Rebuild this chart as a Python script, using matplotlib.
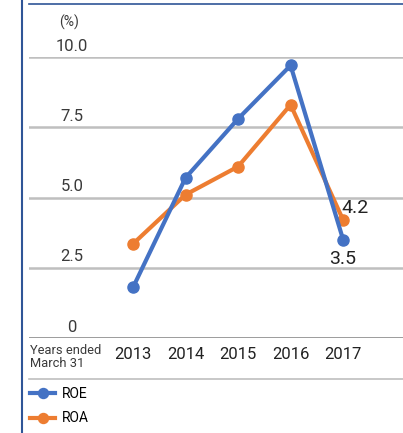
import matplotlib.pyplot as plt
from matplotlib.lines import Line2D

plt.rcParams['font.family'] = ['Roboto', 'DejaVu Sans']

years = ['2013', '2014', '2015', '2016', '2017']
roe = [1.8, 5.7, 7.8, 9.7, 3.5]
roa = [3.35, 5.1, 6.1, 8.3, 4.2]
yticks = [0, 2.5, 5.0, 7.5, 10.0]
ytick_labels = ['0', '2.5', '5.0', '7.5', '10.0']

blue = '#4472C4'
orange = '#ED7D31'
W, H = 403, 433


def fx(x):
    return x / W


def fy(y):
    return 1 - y / H


fig = plt.figure(figsize=(W / 100, H / 100), dpi=100)
ax = fig.add_axes([fx(29), fy(338), fx(403 - 29), (338 - 57) / H])
ax.set_xlim(-1.98, 5.14)
ax.set_ylim(0, 10)
ax.axis('off')

for v in yticks[1:]:
    ax.axhline(v, color='#BFBFBF', lw=1.8, zorder=1)
ax.axhline(0, color='#7F7F7F', lw=1.8, zorder=1)

xs = list(range(len(years)))
ax.plot(xs, roe, color=blue, lw=3, marker='o', ms=8, zorder=3, clip_on=False, label='ROE')
ax.plot(xs, roa, color=orange, lw=3, marker='o', ms=8, zorder=2, clip_on=False, label='ROA')

# y tick labels sit above the gridlines
for v, lab in zip(yticks, ytick_labels):
    ax.text(-1.16, v + 0.12, lab, ha='center', va='bottom', fontsize=12, color='#3a3a3a')
fig.text(fx(69), fy(22), '(%)', ha='center', va='center', fontsize=10, color='#3a3a3a')

# year labels
for i, yr in enumerate(years):
    ax.text(i, -0.6, yr, ha='center', va='center', fontsize=12, color='#222222', clip_on=False)
fig.text(fx(30), fy(357), 'Years ended\nMarch 31', ha='left', va='center', fontsize=9.3,
         color='#3a3a3a', linespacing=1.0)

# end labels
ax.text(4.23, 4.62, '4.2', ha='center', va='center', fontsize=14, color='#222222')
ax.text(4.0, 2.8, '3.5', ha='center', va='center', fontsize=14, color='#222222')

# frame lines
fig.add_artist(Line2D([fx(22), fx(22)], [0, 1], color='#2F5597', lw=1.5))
fig.add_artist(Line2D([fx(29), 1], [fy(4), fy(4)], color='#2F5597', lw=1.2))
fig.add_artist(Line2D([fx(29), 1], [fy(379), fy(379)], color='#BFBFBF', lw=1.2))

fig.legend(loc='upper left', bbox_to_anchor=(fx(30), fy(387)), frameon=False,
           fontsize=10, handlelength=1.8, handletextpad=0.5, labelspacing=0.75,
           borderaxespad=0, borderpad=0, markerscale=0.9)

fig.savefig('out.png', dpi=100)
